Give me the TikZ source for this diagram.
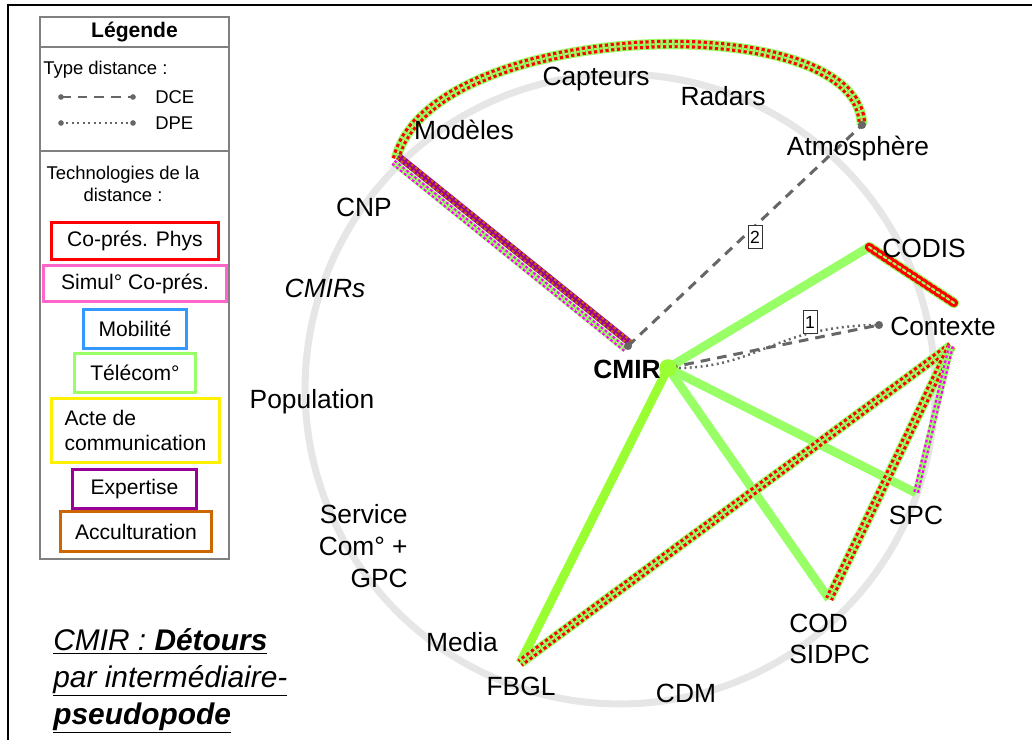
\documentclass[tikz,border=0pt]{standalone}
\usepackage{fontspec}
\setmainfont{Liberation Sans}
\definecolor{lgreen}{HTML}{99FF66}
\definecolor{vgreen}{HTML}{99FF33}
\definecolor{simpink}{HTML}{FF66CC}
\definecolor{magdot}{HTML}{FF00FF}
\definecolor{mobblue}{HTML}{3399FF}
\definecolor{expurple}{HTML}{990099}
\definecolor{accorange}{HTML}{CC6600}
\definecolor{distgray}{HTML}{666666}
\definecolor{ringgray}{HTML}{E6E6E6}
\tikzset{
  lbl/.style={font=\fontsize{15}{18}\selectfont, inner sep=0pt},
  small/.style={font=\fontsize{10.5}{12.5}\selectfont},
  techbox/.style={draw=#1, line width=1.7pt, font=\fontsize{12}{14.5}\selectfont, inner sep=0pt},
  numbox/.style={draw=black!80, line width=0.4pt, fill=white, font=\fontsize{10}{12}\selectfont,
    inner sep=0pt, minimum width=0.28cm, minimum height=0.46cm},
  ring/.style={draw=ringgray, line width=4pt},
  tele/.style={draw=lgreen, line width=5pt},
  phystele/.style={draw=lgreen, line width=6pt,
    postaction={draw=red, line width=1.8pt, double=lgreen, double distance=1.2pt,
      dash pattern=on 1.8pt off 1.5pt}},
  simtele/.style={draw=lgreen, line width=3.8pt,
    postaction={draw=magdot, line width=1.3pt, double=lgreen, double distance=0.8pt,
      dash pattern=on 1.5pt off 1.4pt}},
  expacc/.style={draw=expurple, line width=4pt,
    postaction={draw=accorange, line width=1.3pt, double=expurple, double distance=0.9pt,
      dash pattern=on 1.5pt off 1.4pt}},
  dce/.style={draw=distgray, line width=1.7pt, dash pattern=on 5.5pt off 4pt},
  dpe/.style={draw=distgray, line width=1.4pt, dash pattern=on 1.1pt off 2pt},
}
\begin{document}
\begin{tikzpicture}[x=0.02cm, y=-0.02cm]
\useasboundingbox (0,0) rectangle (1032,740);
% frame
\draw[line width=0.6pt] (8,740) -- (8,5) -- (1032,5);

% legend
\draw[gray, line width=0.6pt] (40,17) rectangle (229,559)
  (40,47) -- (229,47) (40,151) -- (229,151);
\node[font=\bfseries\fontsize{12}{14}\selectfont] (legtitle) at (134.5,32) {Légende};
\node[small, anchor=west, inner sep=0pt] (typedist) at (43,70) {Type distance :};
\coordinate (dcea) at (61,97); \coordinate (dceb) at (133,97);
\coordinate (dpea) at (61,123); \coordinate (dpeb) at (133,123);
\draw[dce, line width=1.5pt] (dcea) -- (dceb);
\draw[dpe, line width=1.2pt] (dpea) -- (dpeb);
\fill[distgray] (dcea) circle (1.6pt) (dceb) circle (1.6pt)
  (dpea) circle (1.6pt) (dpeb) circle (1.6pt);
\node[small, anchor=west, inner sep=0pt] (dcelbl) at (155,97) {DCE};
\node[small, anchor=west, inner sep=0pt] (dpelbl) at (155,123) {DPE};
\node[small, align=center] (techno) at (123,184) {Technologies de la\\distance :};
\node[techbox=red, minimum width=3.34cm, minimum height=0.74cm] (copres) at (135,241) {Co-prés. Phys};
\node[techbox=simpink, minimum width=3.66cm, minimum height=0.72cm] (simul) at (135,283.5) {Simul° Co-prés.};
\node[techbox=mobblue, minimum width=2.06cm, minimum height=0.78cm] (mobil) at (135,329) {Mobilité};
\node[techbox=lgreen, minimum width=2.42cm, minimum height=0.78cm] (telecom) at (135,373) {Télécom°};
\node[techbox=yellow, minimum width=3.36cm, minimum height=1.28cm, align=left] (acte) at (135.5,430.5) {Acte de\\communication};
\node[techbox=expurple, minimum width=2.48cm, minimum height=0.78cm] (expert) at (134.5,489) {Expertise};
\node[techbox=accorange, minimum width=3.02cm, minimum height=0.8cm] (accult) at (136,531.5) {Acculturation};

% ring
\draw[ring] (620,389) circle[radius=6.3cm];

% points
\coordinate (cmir) at (668,368);
\coordinate (pseudo) at (628,346);
\coordinate (mod) at (396,159);
\coordinate (atm) at (862,125);
\coordinate (codis) at (869,247);
\coordinate (codisend) at (954,303);
\coordinate (ctx) at (879,325);
\coordinate (ctxr) at (951,346);
\coordinate (spc) at (916,493);
\coordinate (cod) at (829,599);
\coordinate (fbgl) at (520,663);

% links
\draw[phystele] (mod) .. controls (430,20) and (860,5) .. (atm);
\draw[simtele] ([shift={(-2.6,3.3)}]mod) -- ([shift={(-2.6,3.3)}]pseudo);
\draw[expacc] ([shift={(2.2,-2.8)}]mod) -- ([shift={(2.2,-2.8)}]pseudo);
\draw[tele] (cmir) -- (codis);
\draw[tele] (cmir) -- (spc);
\draw[tele] (cmir) -- (cod);
\draw[tele, draw=vgreen] (cmir) -- (fbgl);
\draw[phystele, line cap=round] (codis) -- (codisend);
\draw[phystele] (ctxr) -- (fbgl);
\draw[phystele] (ctxr) -- (cod);
\draw[simtele] (ctxr) -- (spc);
\draw[dce] (pseudo) -- (atm);
\draw[dce] (cmir) -- (ctx);
\draw[dpe] (cmir) .. controls (760,370) and (770,326) .. (ctx);
\fill[distgray] (atm) circle (2.3pt) (ctx) circle (2.3pt) (pseudo) circle (2.3pt);
\fill[vgreen] (cmir) circle (5pt);
\node[numbox] (n2) at (755,237) {2};
\node[numbox] (n1) at (810,322) {1};

% labels
\node[lbl] (capteurs) at (596,79) {Capteurs};
\node[lbl] (radars) at (723,96) {Radars};
\node[lbl] (modeles) at (464,130) {Modèles};
\node[lbl] (atmos) at (858,149) {Atmosphère};
\node[lbl] (cnp) at (364,207) {CNP};
\node[lbl] (codislbl) at (924,248) {CODIS};
\node[lbl, font=\itshape\fontsize{15}{18}\selectfont] (cmirs) at (325,288) {CMIRs};
\node[lbl] (contexte) at (943,326) {Contexte};
\node[lbl, font=\bfseries\fontsize{15}{18}\selectfont, anchor=east] (cmirlbl) at (661,369) {CMIR};
\node[lbl] (popul) at (312,402) {Population};
\node[lbl] (spclbl) at (916,515) {SPC};
\node[lbl, align=right, anchor=east] (service) at (408,546) {Service\\Com° +\\GPC};
\node[lbl, align=left, anchor=west] (codlbl) at (789,639) {COD\\SIDPC};
\node[lbl] (media) at (462,642) {Media};
\node[lbl] (fbgllbl) at (521,686) {FBGL};
\node[lbl] (cdm) at (686,693) {CDM};

% title
\node[anchor=north west, inner sep=0pt, align=left, font=\fontsize{17}{21}\selectfont] (titre) at (53,628)
  {\underline{\textit{CMIR :} \textbf{\textit{Détours}}}\\
   \underline{\textit{par intermédiaire-}}\\
   \underline{\textbf{\textit{pseudopode}}}};
\end{tikzpicture}
\end{document}
